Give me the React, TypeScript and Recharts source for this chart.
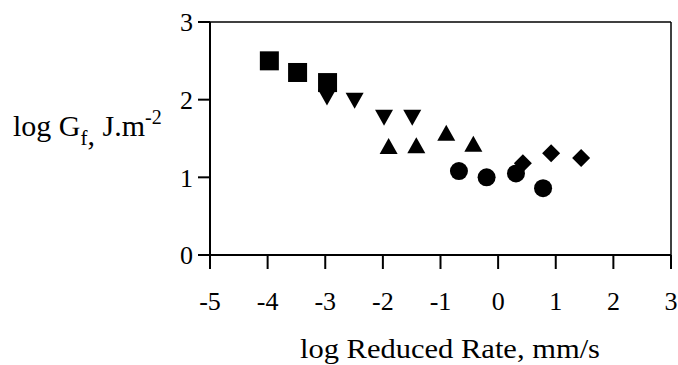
import { ReferenceLine, Scatter, ScatterChart, XAxis, YAxis } from 'recharts';

// log reduced rate (x) vs log Gf (y), one array pair per marker family
const squareX = [-3.97, -3.48, -2.96];
const squareY = [2.5, 2.35, 2.22];
const downX = [-2.97, -2.49, -1.98, -1.49];
const downY = [2.04, 2.0, 1.78, 1.78];
const upX = [-1.9, -1.42, -0.9, -0.43];
const upY = [1.39, 1.4, 1.56, 1.42];
const circleX = [-0.68, -0.2, 0.31, 0.78];
const circleY = [1.08, 1.0, 1.05, 0.86];
const diamondX = [0.43, 0.92, 1.44];
const diamondY = [1.18, 1.31, 1.25];

const xTicks = [-5, -4, -3, -2, -1, 0, 1, 2, 3];
const yTicks = [0, 1, 2, 3];

const FONT = 'Liberation Serif, Times New Roman, serif';
const INK = '#000';

const toPoints = (xs: number[], ys: number[]) => xs.map((x, i) => ({ x, y: ys[i] }));

const Square = ({ cx, cy }: any) => <rect x={cx - 9.5} y={cy - 9.5} width={19} height={19} fill={INK} />;
const Down = ({ cx, cy }: any) => (
  <polygon points={`${cx - 9},${cy - 7} ${cx + 9},${cy - 7} ${cx},${cy + 9}`} fill={INK} />
);
const Up = ({ cx, cy }: any) => (
  <polygon points={`${cx - 9},${cy + 7} ${cx + 9},${cy + 7} ${cx},${cy - 9}`} fill={INK} />
);
const Dot = ({ cx, cy }: any) => <circle cx={cx} cy={cy} r={9} fill={INK} />;
const Diamond = ({ cx, cy }: any) => (
  <polygon points={`${cx},${cy - 9} ${cx + 9},${cy} ${cx},${cy + 9} ${cx - 9},${cy}`} fill={INK} />
);

function YTitle() {
  return (
    <text x={13} y={136} style={{ fontFamily: FONT }} fontSize={30} fill={INK}>
      log G
      <tspan dy={9} fontSize={21}>f</tspan>
      <tspan>,</tspan>
      <tspan dy={-9}> J.m</tspan>
      <tspan dy={-12} fontSize={20}>-2</tspan>
    </text>
  );
}

function XTitle() {
  return (
    <text
      x={300}
      y={358}
      textLength={300}
      lengthAdjust="spacingAndGlyphs"
      style={{ fontFamily: FONT }}
      fontSize={28}
      fill={INK}
    >
      log Reduced Rate, mm/s
    </text>
  );
}

export default function App() {
  const tick = { fontSize: 26, fill: INK, style: { fontFamily: FONT } };
  return (
    <div
      style={{
        position: 'absolute',
        left: 0,
        top: 0,
        width: 678,
        height: 365,
        background: '#fff',
        fontFamily: FONT,
      }}
    >
      <ScatterChart width={678} height={365} margin={{ top: 22, right: 7, left: 0, bottom: 0 }}>
        <XAxis
          type="number"
          dataKey="x"
          domain={[-5, 3]}
          ticks={xTicks}
          allowDataOverflow
          height={110}
          tickSize={14}
          tickMargin={23}
          tick={tick}
          axisLine={{ stroke: INK, strokeWidth: 2 }}
          tickLine={{ stroke: INK, strokeWidth: 2 }}
          label={{ content: () => <XTitle /> }}
        />
        <YAxis
          type="number"
          dataKey="y"
          domain={[0, 3]}
          ticks={yTicks}
          allowDataOverflow
          width={210}
          tickSize={12}
          tickMargin={5}
          tick={tick}
          axisLine={{ stroke: INK, strokeWidth: 2 }}
          tickLine={{ stroke: INK, strokeWidth: 2 }}
          label={{ content: () => <YTitle /> }}
        />
        <ReferenceLine x={3} stroke={INK} strokeWidth={1.5} />
        <ReferenceLine y={3} stroke={INK} strokeWidth={1.5} />
        <Scatter data={toPoints(squareX, squareY)} shape={Square} isAnimationActive={false} />
        <Scatter data={toPoints(downX, downY)} shape={Down} isAnimationActive={false} />
        <Scatter data={toPoints(upX, upY)} shape={Up} isAnimationActive={false} />
        <Scatter data={toPoints(circleX, circleY)} shape={Dot} isAnimationActive={false} />
        <Scatter data={toPoints(diamondX, diamondY)} shape={Diamond} isAnimationActive={false} />
      </ScatterChart>
    </div>
  );
}
